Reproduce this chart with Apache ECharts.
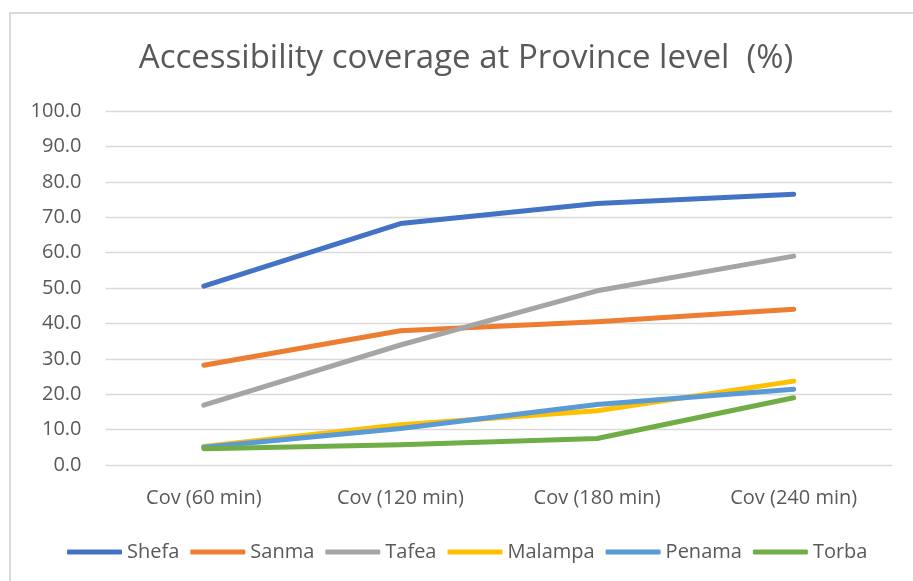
<!DOCTYPE html>
<html>
<head>
<meta charset="utf-8">
<script src="https://cdn.jsdelivr.net/npm/echarts@6/dist/echarts.min.js"></script>
<style>
  html, body { margin: 0; padding: 0; background: #fff; }
  #chart { width: 913px; height: 581px; }
</style>
</head>
<body>
<div id="chart"></div>
<script>
// categories and series values
const categories = ['Cov (60 min)', 'Cov (120 min)', 'Cov (180 min)', 'Cov (240 min)'];
const shefa   = [50.5, 68.2, 73.9, 76.5];
const sanma   = [28.2, 37.9, 40.5, 44.0];
const tafea   = [16.9, 33.9, 49.2, 59.0];
const malampa = [5.2, 11.4, 15.3, 23.7];
const penama  = [5.0, 10.3, 17.1, 21.4];
const torba   = [4.6, 5.7, 7.5, 19.0];

const seriesNames = ['Shefa', 'Sanma', 'Tafea', 'Malampa', 'Penama', 'Torba'];
const seriesData = [shefa, sanma, tafea, malampa, penama, torba];
const colors = ['#4472C4', '#ED7D31', '#A5A5A5', '#FFC000', '#5B9BD5', '#70AD47'];

const font = 'Open Sans';
const textColor = '#595959';

const chart = echarts.init(document.getElementById('chart'));

chart.setOption({
    color: colors,
    animation: false,
    title: {
        text: 'Accessibility coverage at Province level  (%)',
        left: 461,
        top: 37,
        textAlign: 'center',
        textStyle: { fontFamily: font, fontSize: 33, fontWeight: 'normal', color: textColor }
    },
    graphic: [{
        type: 'rect',
        shape: { x: 10, y: 13, width: 1000, height: 1000 },
        style: { fill: 'none', stroke: '#D9D9D9', lineWidth: 2 },
        silent: true
    }],
    grid: { left: 105.5, right: 21, top: 111, bottom: 116 },
    legend: {
        data: seriesNames,
        top: 537,
        left: 62,
        icon: 'roundRect',
        itemWidth: 55,
        itemHeight: 5,
        itemGap: 11,
        textStyle: { fontFamily: font, fontSize: 20, color: textColor }
    },
    xAxis: {
        type: 'category',
        data: categories,
        boundaryGap: true,
        axisLine: { show: false },
        axisTick: { show: false },
        axisLabel: { fontFamily: font, fontSize: 20, color: textColor, margin: 23 }
    },
    yAxis: {
        type: 'value',
        min: 0,
        max: 100,
        interval: 10,
        axisLine: { show: false },
        axisTick: { show: false },
        axisLabel: {
            fontFamily: font, fontSize: 20, color: textColor, margin: 24,
            formatter: v => v.toFixed(1)
        },
        splitLine: { lineStyle: { color: '#D9D9D9', width: 1.3 } }
    },
    series: seriesNames.map((name, i) => ({
        name: name,
        type: 'line',
        data: seriesData[i],
        symbol: 'none',
        lineStyle: { width: 5, cap: 'round', join: 'round' }
    }))
});
</script>
</body>
</html>
